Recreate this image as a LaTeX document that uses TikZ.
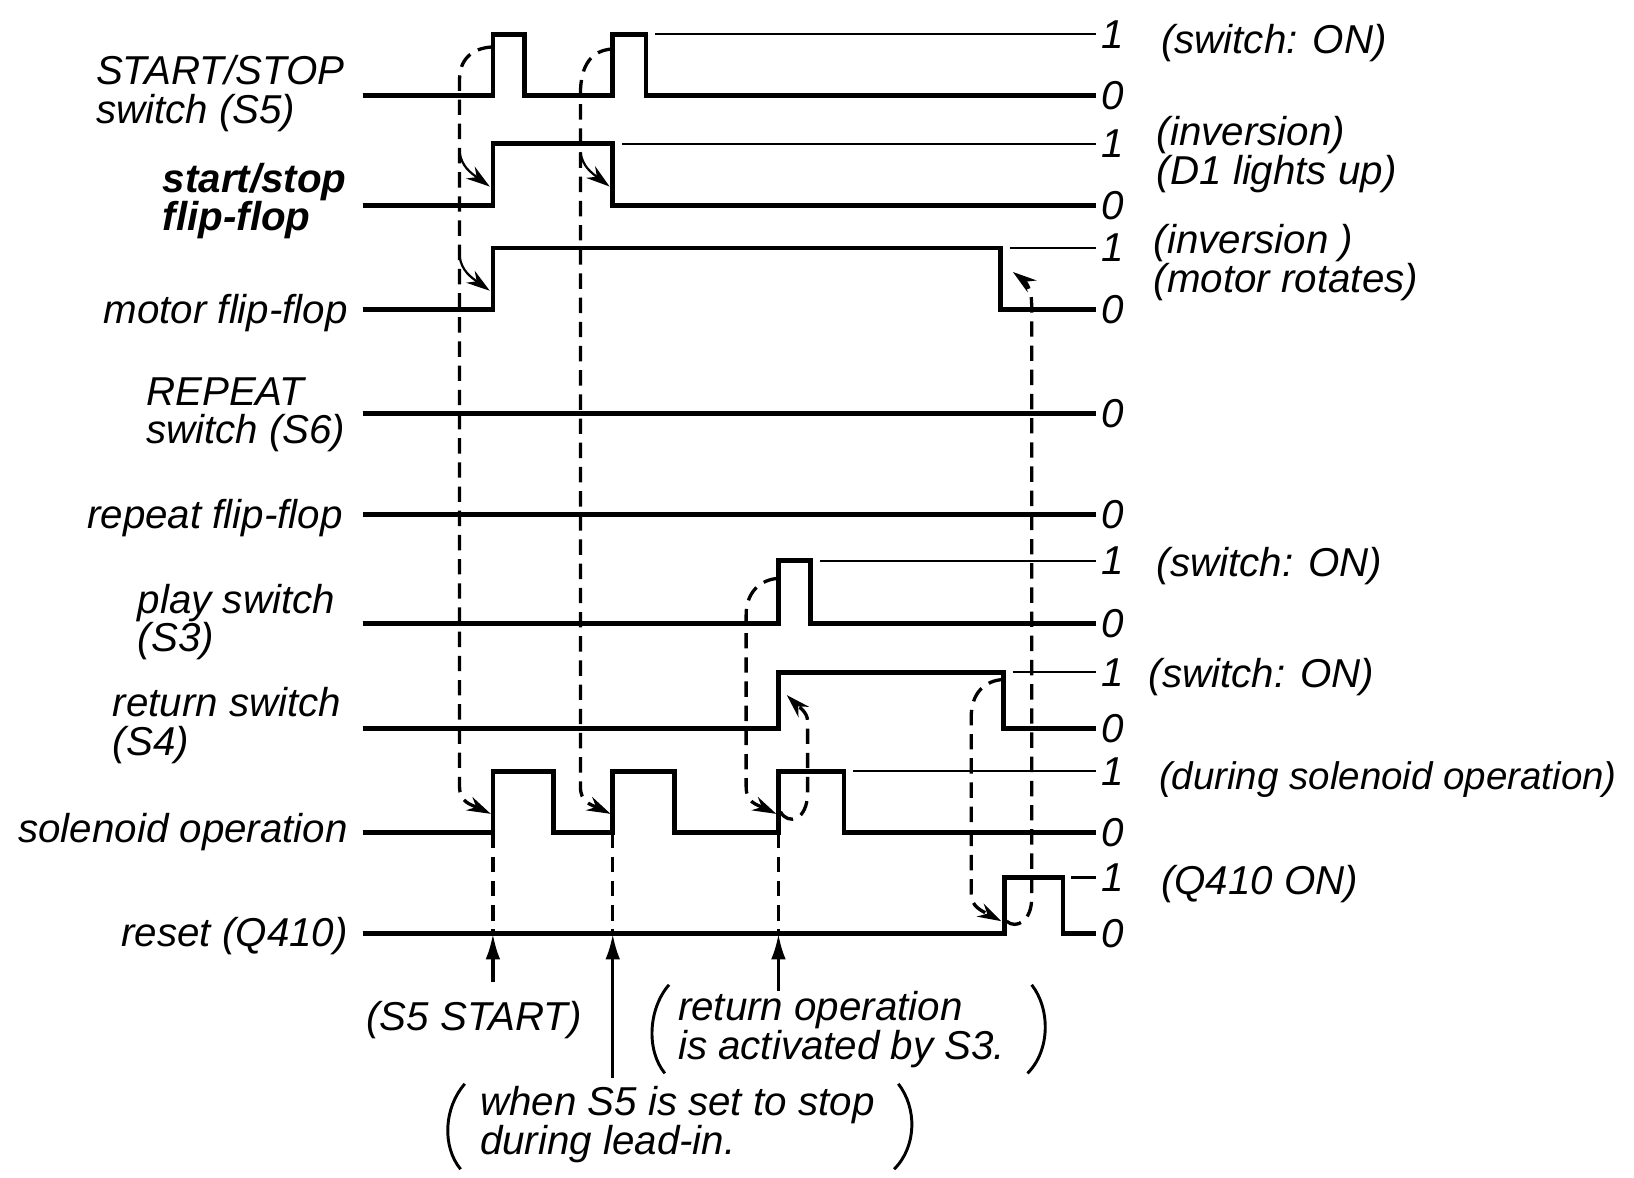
\documentclass[tikz,border=0pt]{standalone}
\usepackage{fontspec}
\setmainfont{Liberation Sans}
\usepackage{tikz}
\usetikzlibrary{arrows.meta,calc}

\begin{document}
\begin{tikzpicture}[x=0.01cm,y=-0.01cm,
    every node/.style={font=\fontsize{11}{10.6}\selectfont\itshape,inner sep=1pt},
    sig/.style={line width=1.3pt},
    ref/.style={line width=0.6pt},
    dsh/.style={line width=0.9pt,dash pattern=on 4.2pt off 2.4pt},
    tip/.style={-{Stealth[length=6.5pt,width=4pt]}},
    uparr/.style={line width=0.9pt,-{Latex[length=7pt,width=4pt]}},
    paren/.style={line width=0.8pt},
    lvl/.style={anchor=west,inner sep=0pt}]
  \useasboundingbox (0,0) rectangle (1568,1130);

  % signals
  \draw[sig] (348,92) -| (473,33) -| (503,92) -| (588,33) -| (620,92) -- (1052,92);
  \draw[ref] (629,33) -- (1052,33);
  \draw[sig] (348,197) -| (473,138) -| (588,197) -- (1052,197);
  \draw[ref] (597,138) -- (1052,138);
  \draw[sig] (348,297) -| (473,238) -| (960,297) -- (1052,297);
  \draw[ref] (969,238) -- (1052,238);
  \draw[sig] (348,397) -- (1052,397);
  \draw[sig] (348,494) -- (1052,494);
  \draw[sig] (348,598) -| (747,538) -| (778,598) -- (1052,598);
  \draw[ref] (787,538) -- (1052,538);
  \draw[sig] (348,699) -| (747,645) -| (963,699) -- (1052,699);
  \draw[ref] (972,645) -- (1052,645);
  \draw[sig] (348,799) -| (473,740) -| (531,799) -| (588,740) -| (647,799) -| (747,740) -| (810,799) -- (1052,799);
  \draw[ref] (819,740) -- (1052,740);
  \draw[sig] (348,896) -| (964,842) -| (1020,896) -- (1052,896);
  \draw[ref] (1028,842) -- (1052,842);

  \foreach \y/\v in {33/1,92/0,138/1,197/0,238/1,297/0,397/0,494/0,538/1,598/0,645/1,699/0,740/1,799/0,842/1,896/0}
    \node[lvl] (lv\y) at (1056,\y) {\v};

  % names
  \node[anchor=west,align=left] (lbsw) at (88,90) {START/STOP\\switch (S5)};
  \node[anchor=west,align=left,font=\fontsize{11}{10.6}\selectfont\bfseries\itshape] (lbff) at (152,193) {start/stop\\flip-flop};
  \node[anchor=east] (lbmo) at (338,300) {motor flip-flop};
  \node[anchor=west,align=left] (lbrp) at (136,398) {REPEAT\\switch (S6)};
  \node[anchor=east] (lbrf) at (333,497) {repeat flip-flop};
  \node[anchor=west,align=left] (lbpl) at (128,597) {play switch\\(S3)};
  \node[anchor=west,align=left] (lbrt) at (104,696) {return switch\\(S4)};
  \node[anchor=east] (lbso) at (338,798) {solenoid operation};
  \node[anchor=east] (lbre) at (338,898) {reset (Q410)};

  \node[anchor=west] (rt1) at (1110,41) {(switch: ON)};
  \node[anchor=west,align=left] (rt2) at (1106,148) {(inversion)\\(D1 lights up)};
  \node[anchor=west,align=left] (rt3) at (1103,252) {(inversion )\\(motor rotates)};
  \node[anchor=west] (rt6) at (1106,543) {(switch: ON)};
  \node[anchor=west] (rt7) at (1098,650) {(switch: ON)};
  \node[anchor=west,font=\fontsize{10.5}{10.6}\selectfont\itshape] (rt8) at (1108,748) {(during solenoid operation)};
  \node[anchor=west] (rt9) at (1110,848) {(Q410 ON)};

  % edges
  \coordinate (a0) at (473,45);  \coordinate (a1) at (471,781);
  \coordinate (b0) at (588,47);  \coordinate (b1) at (586,781);
  \coordinate (c0) at (747,555); \coordinate (c1) at (745,781);
  \coordinate (d0) at (749,779); \coordinate (d1) at (755,667);
  \coordinate (e0) at (966,884); \coordinate (e1) at (972,261);
  \coordinate (g0) at (963,652); \coordinate (g1) at (961,884);
  \coordinate (f1) at (470,179); \coordinate (m1) at (470,279); \coordinate (f2) at (585,179);
  \coordinate (s1) at (473,799); \coordinate (s2) at (588,799); \coordinate (s3) at (747,799);
  \coordinate (t1) at (473,896); \coordinate (t2) at (588,896); \coordinate (t3) at (747,896);

  \draw[dsh,tip] (a0) .. controls (452,46) and (441,58) .. (441,76) -- (441,755) .. controls (441,770) and (452,772) .. (a1);
  \draw[dsh,tip] (b0) .. controls (568,48) and (557,62) .. (557,90) -- (557,755) .. controls (557,770) and (567,772) .. (b1);
  \draw[dsh,tip] (c0) .. controls (730,556) and (716,568) .. (716,590) -- (716,755) .. controls (716,770) and (726,772) .. (c1);
  \draw[dsh,tip] (d0) .. controls (756,792) and (775,788) .. (775,760) -- (775,692) .. controls (775,683) and (765,677) .. (d1);
  \draw[dsh,tip] (e0) .. controls (975,892) and (990,884) .. (990,862) -- (990,292) .. controls (990,278) and (984,270) .. (e1);
  \draw[dsh,tip] (g0) .. controls (945,653) and (932,665) .. (932,688) -- (932,858) .. controls (932,870) and (942,874) .. (g1);
  \draw[ref,tip] (441,146) .. controls (443,160) and (452,166) .. (f1);
  \draw[ref,tip] (441,246) .. controls (443,260) and (452,266) .. (m1);
  \draw[ref,tip] (557,146) .. controls (559,160) and (568,166) .. (f2);
  \draw[dsh] (s1) -- (t1);
  \draw[dsh] (s2) -- (t2);
  \draw[dsh] (s3) -- (t3);

  % notes
  \node (nstart) at (455,979) {(S5 START)};
  \node[anchor=west,inner sep=0pt,align=left] (nret) at (650,988) {return operation\\is activated by S3.};
  \node[anchor=west,inner sep=0pt,align=left] (nstop) at (460,1079) {when S5 is set to stop\\during lead-in.};
  \draw[paren] (642,945) .. controls (622,968) and (620,1008) .. (638,1030);
  \draw[paren] (990,945) .. controls (1008,968) and (1008,1008) .. (986,1030);
  \draw[paren] (446,1040) .. controls (426,1063) and (424,1100) .. (442,1122);
  \draw[paren] (862,1040) .. controls (880,1063) and (880,1100) .. (858,1122);
  \draw[uparr] ([yshift=4pt]nstart.north -| t1) -- (t1);
  \draw[uparr] ([yshift=2pt]nstop.north -| t2) -- (t2);
  \draw[uparr] (nret.north -| t3) -- (t3);
\end{tikzpicture}
\end{document}
